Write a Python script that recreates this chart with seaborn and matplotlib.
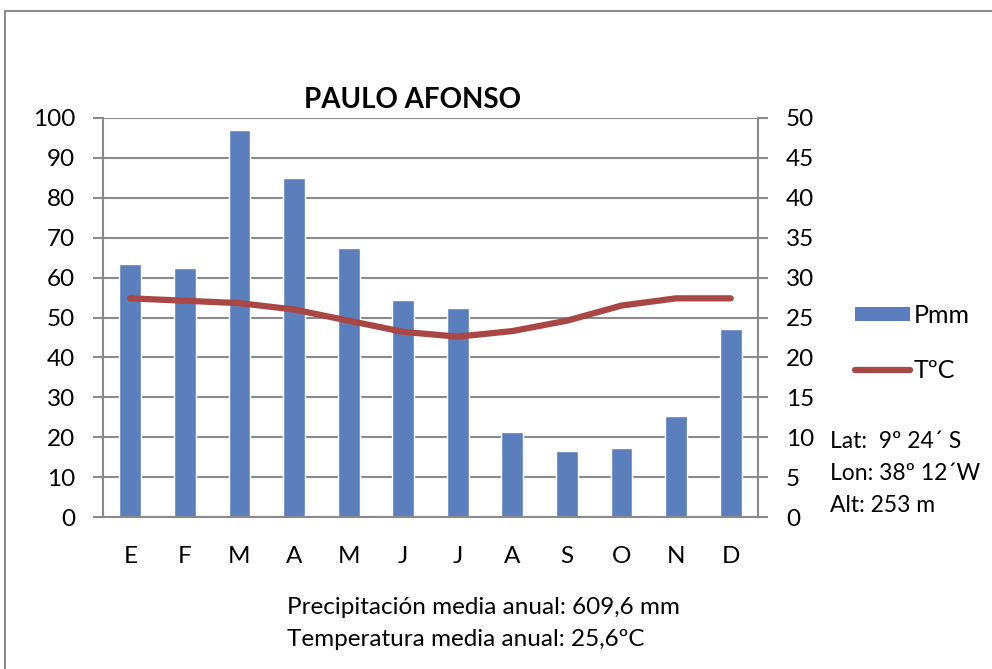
import numpy as np
import pandas as pd
import seaborn as sns
import matplotlib.pyplot as plt
from matplotlib.patches import Rectangle, Patch
from matplotlib.lines import Line2D

# datos climáticos
meses = ["E", "F", "M", "A", "M", "J", "J", "A", "S", "O", "N", "D"]
pmm = [63.4, 62.4, 97.0, 85.0, 67.4, 54.4, 52.4, 21.3, 16.5, 17.3, 25.3, 47.0]
temp = [27.4, 27.1, 26.8, 26.0, 24.6, 23.2, 22.6, 23.3, 24.6, 26.5, 27.4, 27.4]
titulo = "PAULO AFONSO"
coords = ["Lat:  9º 24´ S", "Lon: 38º 12´W", "Alt: 253 m"]
resumen = ["Precipitación media anual: 609,6 mm", "Temperatura media anual: 25,6ºC"]

azul = "#5b7fbc"
rojo = "#a84744"
gris = "#8a8a8a"

sns.set_style("white")
plt.rcParams["font.family"] = ["Lato", "DejaVu Sans"]
plt.rcParams["text.color"] = "black"

df = pd.DataFrame({"pos": range(len(meses)), "mes": meses, "pmm": pmm, "temp": temp})

W, H = 992, 669
fig = plt.figure(figsize=(W / 100, H / 100), dpi=100)
ax = fig.add_axes([103 / W, 1 - 517 / H, 655 / W, 399 / H])

sns.barplot(data=df, x="pos", y="pmm", color=azul, width=0.4, saturation=1, ax=ax)
ax.set_xlim(-0.5, 11.5)
ax.set_ylim(0, 100)
ax.set_yticks(np.arange(0, 101, 10))
ax.set_xticks(range(12), meses)
ax.set_xticks(np.arange(-0.5, 12, 1), minor=True)
ax.set_xlabel("")
ax.set_ylabel("")
ax.yaxis.grid(True, color=gris, linewidth=1.5)
ax.set_axisbelow(True)
ax.tick_params(axis="x", which="major", length=0, pad=21, labelsize=17.5, labelcolor="black")
ax.tick_params(axis="x", which="minor", length=6, width=1.5, color=gris)
ax.tick_params(axis="y", length=7, width=1.5, color=gris, labelsize=17.5, pad=13,
               labelcolor="black")
for s in ["top", "right"]:
    ax.spines[s].set_visible(False)
for s in ["left", "bottom"]:
    ax.spines[s].set_color(gris)
    ax.spines[s].set_linewidth(1.5)

ax2 = ax.twinx()
sns.lineplot(data=df, x="pos", y="temp", color=rojo, linewidth=4.5, ax=ax2,
             solid_capstyle="round", solid_joinstyle="round")
ax2.set_ylim(0, 50)
ax2.set_yticks(np.arange(0, 51, 5))
ax2.set_ylabel("")
ax2.set_xlabel("")
ax2.tick_params(axis="y", length=7, width=1.5, color=gris, labelsize=17.5, pad=13,
                labelcolor="black")
for s in ["top", "left", "bottom"]:
    ax2.spines[s].set_visible(False)
ax2.spines["right"].set_color(gris)
ax2.spines["right"].set_linewidth(1.5)

fig.text(412 / W, 1 - 100 / H, titulo, ha="center", va="center",
         fontsize=20, fontweight="bold")

handles = [Patch(facecolor=azul, edgecolor="none"),
           Line2D([0], [0], color=rojo, linewidth=4.5, solid_capstyle="round")]
fig.legend(handles, ["Pmm", "TºC"], loc="center left",
           bbox_to_anchor=(832 / W, 1 - 343 / H), frameon=False, fontsize=18,
           handlelength=2.2, handleheight=0.5, handletextpad=0.15, labelspacing=1.3)

for i, t in enumerate(coords):
    fig.text(830 / W, 1 - (442 + 32 * i) / H, t, ha="left", va="center", fontsize=16.5)
for i, t in enumerate(resumen):
    fig.text(287 / W, 1 - (608 + 31 * i) / H, t, ha="left", va="center", fontsize=17.5)

fig.patches.append(Rectangle((5 / W, -0.1), 1.2, 1 - 11 / H + 0.1, transform=fig.transFigure,
                             fill=False, edgecolor="#8c8c8c", linewidth=1.5))

fig.savefig("out.png", dpi=100)
